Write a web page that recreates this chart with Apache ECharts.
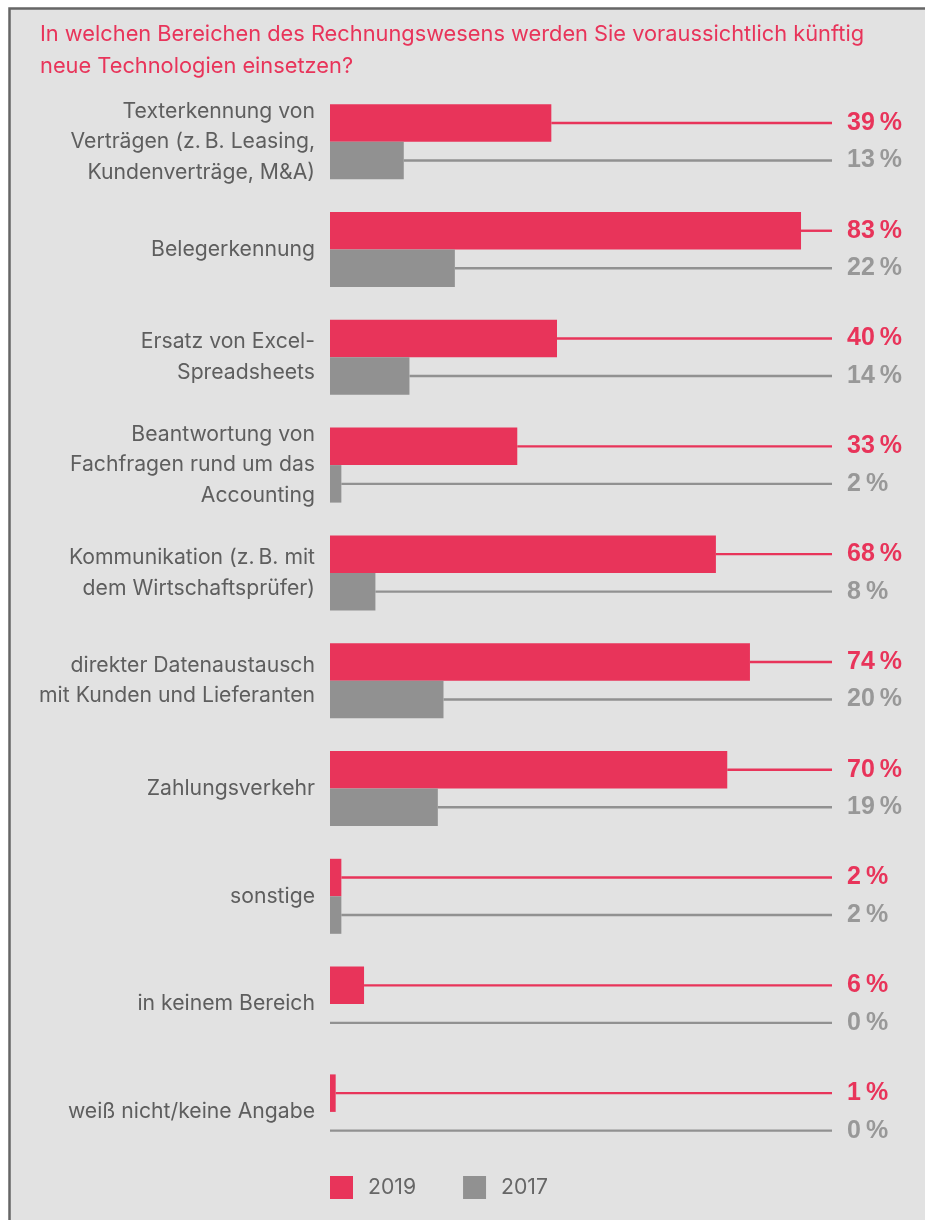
<!DOCTYPE html>
<html>
<head>
<meta charset="utf-8">
<script src="https://cdn.jsdelivr.net/npm/echarts@6/dist/echarts.min.js"></script>
<style>
html,body{margin:0;padding:0;background:#fff;}
#chart{width:925px;height:1220px;}
</style>
</head>
<body>
<div id="chart"></div>
<script>
const titleText = "In welchen Bereichen des Rechnungswesens werden Sie voraussichtlich künftig\nneue Technologien einsetzen?";
const categories = [
  "Texterkennung von\nVerträgen (z.\u2009B. Leasing,\nKundenverträge, M&A)",
  "Belegerkennung",
  "Ersatz von Excel-\nSpreadsheets",
  "Beantwortung von\nFachfragen rund um das\nAccounting",
  "Kommunikation (z.\u2009B. mit\ndem Wirtschaftsprüfer)",
  "direkter Datenaustausch\nmit Kunden und Lieferanten",
  "Zahlungsverkehr",
  "sonstige",
  "in keinem Bereich",
  "weiß nicht/keine Angabe"
];
const seriesNames = ["2019", "2017"];
const values2019 = [39, 83, 40, 33, 68, 74, 70, 2, 6, 1];
const values2017 = [13, 22, 14, 2, 8, 20, 19, 2, 0, 0];

const PINK = "#e8345a";
const GRAY = "#919191";
const GRAY_TEXT = "#989898";
const FONT = "Inter, 'Liberation Sans', Arial, sans-serif";
const BOLD_FONT = "'Liberation Sans', Arial, Helvetica, sans-serif";
const BAR_W = 37.5;

function leaderSeries(name, values, color, textColor, sign) {
  return {
    type: "custom",
    name: name,
    data: values.map((v, i) => [v, i]),
    encode: { x: 0, y: 1 },
    silent: true,
    z: 1,
    renderItem: function (params, api) {
      const v = api.value(0);
      const idx = api.value(1);
      const p = api.coord([v, idx]);
      const y = p[1] + sign * BAR_W / 2;
      const endX = params.coordSys.x + params.coordSys.width - 65.5;
      return {
        type: "group",
        children: [
          {
            type: "line",
            shape: { x1: p[0], y1: y, x2: endX, y2: y },
            style: { stroke: color, lineWidth: 2.4 }
          },
          {
            type: "text",
            x: endX + 15,
            y: y,
            style: {
              text: v + "\u2009%",
              fill: textColor,
              font: "bold 25px " + BOLD_FONT,
              textAlign: "left",
              textVerticalAlign: "middle"
            }
          }
        ]
      };
    }
  };
}

const chart = echarts.init(document.getElementById("chart"), null, { renderer: "canvas" });
chart.setOption({
  backgroundColor: "#ffffff",
  animation: false,
  textStyle: { fontFamily: FONT },
  graphic: [
    {
      type: "rect",
      z: -10,
      shape: { x: 9.5, y: 8.5, width: 930, height: 1230 },
      style: { fill: "#e2e2e2", stroke: "#666666", lineWidth: 2.5 }
    }
  ],
  title: {
    text: titleText,
    left: 35,
    top: 13,
    textStyle: { color: PINK, fontSize: 21.8, fontWeight: "normal", lineHeight: 32, fontFamily: FONT }
  },
  legend: {
    data: seriesNames,
    left: 325,
    top: 1171,
    icon: "rect",
    itemWidth: 23,
    itemHeight: 23,
    itemGap: 47,
    textStyle: { color: "#666666", fontSize: 21.2, fontFamily: FONT, padding: [0, 0, 0, 10] }
  },
  grid: { left: 330, top: 87.8, width: 567.5, height: 1078 },
  xAxis: {
    type: "value", min: 0, max: 100, show: false, splitLine: { show: false }
  },
  yAxis: {
    type: "category",
    inverse: true,
    data: categories,
    axisLine: { show: false },
    axisTick: { show: false },
    splitLine: { show: false },
    axisLabel: {
      color: "#5e5e5e",
      fontSize: 21.2,
      lineHeight: 30.5,
      align: "right",
      margin: 15,
      fontFamily: FONT
    }
  },
  series: [
    {
      type: "bar", name: seriesNames[0], data: values2019,
      barWidth: BAR_W, barGap: "0%", itemStyle: { color: PINK }, z: 2
    },
    {
      type: "bar", name: seriesNames[1], data: values2017,
      barWidth: BAR_W, barGap: "0%", itemStyle: { color: GRAY }, z: 2
    },
    leaderSeries("l2019", values2019, PINK, PINK, -1),
    leaderSeries("l2017", values2017, GRAY, GRAY_TEXT, 1)
  ]
});
</script>
</body>
</html>
